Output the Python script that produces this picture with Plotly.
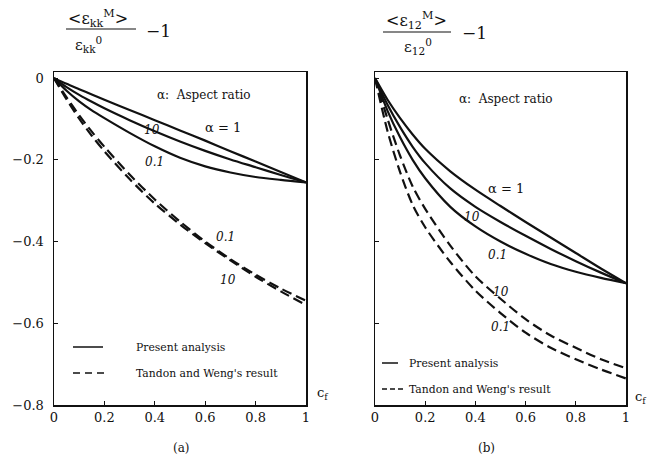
import plotly.graph_objects as go

# ---------------- data ----------------
cf = [0, 0.05, 0.1, 0.15, 0.2, 0.3, 0.4, 0.5, 0.6, 0.7, 0.8, 0.9, 1.0]

# (a) bulk strain, present analysis (solid)
a_present_1 = [0, -0.014, -0.027, -0.040, -0.053, -0.078, -0.103, -0.128, -0.153, -0.179, -0.204, -0.230, -0.255]
a_present_10 = [0, -0.022, -0.041, -0.058, -0.074, -0.103, -0.130, -0.155, -0.178, -0.199, -0.218, -0.237, -0.255]
a_present_01 = [0, -0.031, -0.057, -0.079, -0.098, -0.134, -0.167, -0.195, -0.216, -0.231, -0.242, -0.249, -0.255]
# (a) Tandon and Weng (dashed)
a_tw_10 = [0, -0.047, -0.091, -0.131, -0.168, -0.236, -0.297, -0.351, -0.400, -0.443, -0.481, -0.515, -0.545]
a_tw_01 = [0, -0.052, -0.099, -0.141, -0.179, -0.247, -0.307, -0.358, -0.404, -0.446, -0.486, -0.522, -0.555]

# (b) shear strain, present analysis (solid)
b_present_1 = [0, -0.053, -0.098, -0.138, -0.173, -0.228, -0.273, -0.313, -0.352, -0.390, -0.428, -0.466, -0.502]
b_present_10 = [0, -0.065, -0.120, -0.168, -0.208, -0.270, -0.315, -0.352, -0.386, -0.418, -0.448, -0.476, -0.502]
b_present_01 = [0, -0.080, -0.145, -0.200, -0.245, -0.315, -0.363, -0.400, -0.430, -0.455, -0.474, -0.489, -0.502]
# (b) Tandon and Weng (dashed)
b_tw_10 = [0, -0.100, -0.190, -0.265, -0.320, -0.410, -0.485, -0.540, -0.590, -0.630, -0.660, -0.688, -0.710]
b_tw_01 = [0, -0.130, -0.230, -0.310, -0.365, -0.450, -0.520, -0.575, -0.623, -0.660, -0.688, -0.713, -0.735]

x_ticks = [0, 0.2, 0.4, 0.6, 0.8, 1]
x_ticktext = ["0", "0.2", "0.4", "0.6", "0.8", "1"]
y_ticks = [-0.8, -0.6, -0.4, -0.2, 0]
y_ticktext = ["\u22120.8", "\u22120.6", "\u22120.4", "\u22120.2", "0"]

# ---------------- figure ----------------
W, H = 649, 463
FONT = "DejaVu Serif"
BLACK = "#111111"

fig = go.Figure()

def add_line(xa, ya, y, dash):
    fig.add_trace(go.Scatter(
        x=cf, y=y, mode="lines", xaxis=xa, yaxis=ya,
        line=dict(color=BLACK, width=2.2, dash=dash, shape="spline", smoothing=0.8),
        showlegend=False, hoverinfo="skip"))

DASH = "10px,5px"
for s in (a_present_1, a_present_10, a_present_01):
    add_line("x", "y", s, "solid")
for s in (a_tw_10, a_tw_01):
    add_line("x", "y", s, DASH)
for s in (b_present_1, b_present_10, b_present_01):
    add_line("x2", "y2", s, "solid")
for s in (b_tw_10, b_tw_01):
    add_line("x2", "y2", s, DASH)

def px(xp):
    return xp / W

def py(yp):
    return 1 - yp / H

top, bottom = 72, 405
ydom = [py(bottom), py(top)]
yrange = [-0.8, 0.015]

axis_common = dict(showline=True, linecolor=BLACK, linewidth=1.5, mirror=True,
                   ticks="inside", ticklen=4, tickcolor=BLACK, tickwidth=1,
                   showgrid=False, zeroline=False, automargin=False,
                   tickfont=dict(family=FONT, size=13, color=BLACK))

fig.update_layout(
    width=W, height=H, margin=dict(l=0, r=0, t=0, b=0, pad=0),
    paper_bgcolor="white", plot_bgcolor="white",
    font=dict(family=FONT, color=BLACK),
    xaxis=dict(domain=[px(54), px(306)], range=[0, 1], anchor="y",
               tickvals=x_ticks, ticktext=x_ticktext, **axis_common),
    yaxis=dict(domain=ydom, range=yrange, anchor="x",
               tickvals=y_ticks, ticktext=y_ticktext, ticklabelstandoff=6, **axis_common),
    xaxis2=dict(domain=[px(375), px(626)], range=[0, 1], anchor="y2",
                tickvals=x_ticks, ticktext=x_ticktext, **axis_common),
    yaxis2=dict(domain=ydom, range=yrange, anchor="x2",
                tickvals=y_ticks, showticklabels=False, **axis_common),
)

ann = []

def text(x, y, t, size=12, xref="paper", yref="paper", xanchor="center", yanchor="middle"):
    ann.append(dict(x=x, y=y, xref=xref, yref=yref, text=t, showarrow=False,
                    xanchor=xanchor, yanchor=yanchor, borderpad=0,
                    font=dict(family=FONT, size=size, color=BLACK)))

# y-axis titles (fractions)
text(px(98), py(18), "&lt;\u03b5<sub>kk</sub><sup>M</sup>&gt;", 16)
text(px(88), py(44), "\u03b5<sub>kk</sub><sup>0</sup>", 15)
text(px(158), py(31), "\u22121", 17)
text(px(416), py(20), "&lt;\u03b5<sub>12</sub><sup>M</sup>&gt;", 16)
text(px(418), py(46), "\u03b5<sub>12</sub><sup>0</sup>", 15)
text(px(474), py(33), "\u22121", 17)

shapes = [
    dict(type="line", xref="paper", yref="paper", x0=px(66), x1=px(136), y0=py(29), y1=py(29),
         line=dict(color=BLACK, width=1.2)),
    dict(type="line", xref="paper", yref="paper", x0=px(383), x1=px(451), y0=py(32), y1=py(32),
         line=dict(color=BLACK, width=1.2)),
]

# aspect ratio notes
text(0.595, -0.042, "\u03b1:  Aspect ratio", 12, "x", "y")
text(0.52, -0.051, "\u03b1:  Aspect ratio", 12, "x2", "y2")

# curve labels (a)
text(0.67, -0.122, "\u03b1 = 1", 13, "x", "y")
text(0.39, -0.128, "<i>10</i>", 12, "x", "y")
text(0.40, -0.206, "<i>0.1</i>", 12, "x", "y")
text(0.68, -0.39, "<i>0.1</i>", 12, "x", "y")
text(0.69, -0.495, "<i>10</i>", 12, "x", "y")
# curve labels (b)
text(0.52, -0.269, "\u03b1 = 1", 13, "x2", "y2")
text(0.386, -0.34, "<i>10</i>", 12, "x2", "y2")
text(0.49, -0.433, "<i>0.1</i>", 12, "x2", "y2")
text(0.50, -0.524, "<i>10</i>", 12, "x2", "y2")
text(0.50, -0.609, "<i>0.1</i>", 12, "x2", "y2")

# legends (drawn in paper space)
shapes += [
    dict(type="line", xref="paper", yref="paper", x0=px(73), x1=px(103), y0=py(347), y1=py(347),
         line=dict(color=BLACK, width=1.5)),
    dict(type="line", xref="paper", yref="paper", x0=px(73), x1=px(104), y0=py(373), y1=py(373),
         line=dict(color=BLACK, width=1.5, dash="7px,5px")),
    dict(type="line", xref="paper", yref="paper", x0=px(382), x1=px(398), y0=py(363), y1=py(363),
         line=dict(color=BLACK, width=1.5)),
    dict(type="line", xref="paper", yref="paper", x0=px(382), x1=px(403), y0=py(389), y1=py(389),
         line=dict(color=BLACK, width=1.5, dash="5px,3px")),
]
text(px(135), py(347), "Present analysis", 10.8, xanchor="left")
text(px(135), py(373), "Tandon and Weng's result", 10.8, xanchor="left")
text(px(408), py(363), "Present analysis", 10.8, xanchor="left")
text(px(408), py(389), "Tandon and Weng's result", 10.8, xanchor="left")

# x-axis name and panel captions
text(px(316), py(393), "c<sub>f</sub>", 13, xanchor="left")
text(px(647), py(397), "c<sub>f</sub>", 13, xanchor="right")
text(px(181), py(448), "(a)", 12)
text(px(486), py(448), "(b)", 12)

fig.update_layout(annotations=ann, shapes=shapes)

fig.write_html("out.html", config={"displayModeBar": False, "staticPlot": True},
               post_script="document.body.style.margin='0px';document.body.style.overflow='hidden';")
